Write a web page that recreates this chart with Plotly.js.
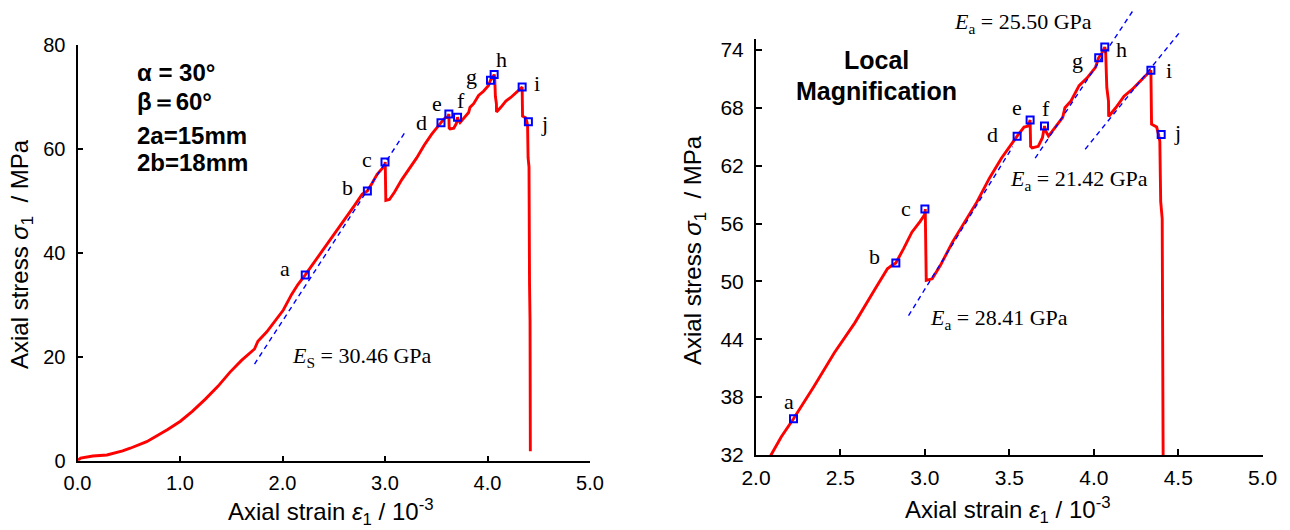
<!DOCTYPE html>
<html>
<head>
<meta charset="utf-8">
<script src="https://cdn.plot.ly/plotly-3.0.1.min.js"></script>
<style>
  html, body { margin: 0; padding: 0; background: #fff; }
  #chart { width: 1290px; height: 530px; }
</style>
</head>
<body>
<div id="chart"></div>
<script>
// ---------- DATA ----------
// axial strain (10^-3) and axial stress (MPa) of the full curve
const strain = [0, 0.03, 0.15, 0.287, 0.44, 0.514, 0.675, 0.763, 0.88, 1.004, 1.12, 1.245, 1.37, 1.486, 1.6, 1.727, 1.76, 1.847, 1.93, 2.008,
  2.089, 2.15, 2.222, 2.343, 2.464, 2.585, 2.705, 2.778, 2.80, 2.828, 2.874, 2.923, 2.971, 2.998, 3.002, 3.008, 3.043, 3.092, 3.164, 3.237,
  3.309, 3.382, 3.454, 3.546, 3.587, 3.611, 3.623, 3.626, 3.635, 3.671, 3.696, 3.708, 3.715, 3.732, 3.768, 3.816, 3.829, 3.865, 3.913, 3.961,
  4.01, 4.029, 4.046, 4.065, 4.07, 4.077, 4.087, 4.088, 4.13, 4.179, 4.227, 4.275, 4.324, 4.338, 4.342, 4.372, 4.384, 4.391, 4.396, 4.405,
  4.41, 4.415, 4.418];
const stress = [0, 0.5, 0.9, 1.1, 1.9, 2.4, 3.66, 4.67, 6.0, 7.6, 9.5, 11.8, 14.3, 17.0, 19.3, 21.5, 23.0, 24.8, 27.0, 29.0,
  32.0, 33.9, 35.76, 39.1, 42.6, 45.7, 49.2, 51.3, 51.6, 51.9, 53.4, 55.1, 56.2, 56.9, 57.5, 50.1, 50.27, 51.66, 54.1, 56.18,
  58.27, 60.7, 62.8, 65.06, 66.0, 66.1, 66.73, 64.0, 63.84, 64.0, 64.9, 66.1, 65.6, 65.06, 65.9, 67.0, 68.0, 68.7, 70.3, 71.1,
  72.2, 73.2, 73.6, 74.3, 73.9, 70.1, 68.7, 67.1, 68.0, 69.2, 69.9, 70.8, 71.7, 71.9, 66.3, 66.0, 65.2, 64.5, 58.3, 56.5,
  34.0, 27.0, 1.8];

// characteristic points a–j
const pointLabels = ['a', 'b', 'c', 'd', 'e', 'f', 'g', 'h', 'i', 'j'];
const pointStrain = [2.222, 2.828, 3.0, 3.546, 3.623, 3.708, 4.029, 4.065, 4.338, 4.399];
const pointStress = [35.76, 51.9, 57.5, 65.06, 66.73, 66.1, 73.2, 74.3, 71.9, 65.23];

// fitted modulus lines (dashed)
const esStrain = [1.727, 3.205];
const esStress = [18.6, 63.5];
const ea1Strain = [2.903, 3.52];      // 28.41 GPa
const ea1Stress = [46.44, 63.97];
const ea2Strain = [3.653, 4.235];     // 25.50 GPa
const ea2Stress = [62.77, 78.15];
const ea3Strain = [3.949, 4.512];     // 21.42 GPa
const ea3Stress = [63.7, 75.9];

// tick settings
const leftXTicks = [0, 1, 2, 3, 4, 5];
const leftYTicks = [0, 20, 40, 60, 80];
const rightXTicks = [2.0, 2.5, 3.0, 3.5, 4.0, 4.5, 5.0];
const rightYTicks = [32, 38, 44, 50, 56, 62, 68, 74];

// ---------- LAYOUT HELPERS (pixel positions, not data) ----------
const W = 1290, H = 530;
const px = v => v / W;
const py = v => 1 - v / H;

// label offsets in px (dx right, dy down) for a–j
const leftDx = [-20.6, -19.8, -18.5, -19.3, -11.5, 3.7, -19.3, 7.4, 15.2, 16];
const leftDy = [-6, -3.4, -2.7, 0, -10.8, -17, -3.4, -15.5, -3.4, 1.7];
const rightDx = [-4.1, -21.6, -19.2, -24.9, -13.1, 1.2, -21.6, 17.1, 18, 16.7];
const rightDy = [-17.4, -7.0, -0.7, -1.7, -12.4, -17.8, 2.7, 2.7, 0.7, -1.7];

const sans = 'Liberation Sans, Arial, sans-serif';
const serif = 'Liberation Serif, Times New Roman, serif';
const RED = '#ff0000', BLUE = '#0000ff';

const lx = [px(77.5), px(590)], ly = [py(460.7), py(45)];
const rx = [px(756), px(1262.7)], ry = [py(455), py(39.3)];
const rRange = [32, 75.1];
const r3Top = rRange[0] + (rRange[1] - rRange[0]) * (1 - ry[0]) / (ry[1] - ry[0]);

const curveLine = {color: RED, width: 2.9};
const dashLine = {color: BLUE, width: 1.4, dash: '5px,4px'};
const sqMarker = {symbol: 'square-open', size: 7, color: BLUE, line: {color: BLUE, width: 2}};

const traces = [
  {x: strain, y: stress, xaxis: 'x', yaxis: 'y', mode: 'lines', line: curveLine, hoverinfo: 'skip'},
  {x: esStrain, y: esStress, xaxis: 'x', yaxis: 'y', mode: 'lines', line: dashLine},
  {x: pointStrain, y: pointStress, xaxis: 'x', yaxis: 'y', mode: 'markers', marker: sqMarker},
  {x: strain, y: stress, xaxis: 'x2', yaxis: 'y2', mode: 'lines', line: curveLine},
  {x: ea1Strain, y: ea1Stress, xaxis: 'x3', yaxis: 'y3', mode: 'lines', line: dashLine},
  {x: ea2Strain, y: ea2Stress, xaxis: 'x3', yaxis: 'y3', mode: 'lines', line: dashLine},
  {x: ea3Strain, y: ea3Stress, xaxis: 'x3', yaxis: 'y3', mode: 'lines', line: dashLine},
  {x: pointStrain, y: pointStress, xaxis: 'x3', yaxis: 'y3', mode: 'markers', marker: sqMarker}
];

const axBase = {
  showline: true, linecolor: '#000', linewidth: 2, showgrid: false, zeroline: false,
  ticks: 'inside', tickcolor: '#000', tickwidth: 2, fixedrange: true
};

const annotations = [];
pointLabels.forEach((t, i) => {
  annotations.push({xref: 'x', yref: 'y', x: pointStrain[i], y: pointStress[i], text: t, showarrow: false,
    xshift: leftDx[i], yshift: -leftDy[i], font: {family: serif, size: 22, color: '#000'}});
  annotations.push({xref: 'x3', yref: 'y3', x: pointStrain[i], y: pointStress[i], text: t, showarrow: false,
    xshift: rightDx[i], yshift: -rightDy[i], font: {family: serif, size: 22, color: '#000'}});
});

const boldFont = {family: sans, size: 24, color: '#000'};
[['<b>α = 30°</b>', 73], ['<b>β＝60°</b>', 102], ['<b>2a=15mm</b>', 135.5], ['<b>2b=18mm</b>', 162.5]].forEach(([t, y]) => {
  annotations.push({xref: 'paper', yref: 'paper', x: px(135), y: py(y), xanchor: 'left', yanchor: 'middle',
    text: t, showarrow: false, font: boldFont});
});
annotations.push({xref: 'paper', yref: 'paper', x: px(876), y: py(60), xanchor: 'center', yanchor: 'middle',
  text: '<b>Local</b>', showarrow: false, font: {family: sans, size: 25, color: '#000'}});
annotations.push({xref: 'paper', yref: 'paper', x: px(876), y: py(91), xanchor: 'center', yanchor: 'middle',
  text: '<b>Magnification</b>', showarrow: false, font: {family: sans, size: 25, color: '#000'}});

const eFont = {family: serif, size: 22, color: '#000'};
[['<i>E</i><sub>S</sub> = 30.46 GPa', 290, 357],
 ['<i>E</i><sub>a</sub> = 28.41 GPa', 928, 319],
 ['<i>E</i><sub>a</sub> = 25.50 GPa', 952, 23],
 ['<i>E</i><sub>a</sub> = 21.42 GPa', 1008, 180]].forEach(([t, x, y]) => {
  annotations.push({xref: 'paper', yref: 'paper', x: px(x), y: py(y), xanchor: 'left', yanchor: 'middle',
    text: t, showarrow: false, font: eFont});
});

const titleFont = {family: sans, size: 24, color: '#000'};
const yTitle = 'Axial stress <i>σ</i><sub>1</sub>  / MPa';
const xTitle = 'Axial strain <i>ε</i><sub>1</sub> / 10<sup>-3</sup>';
annotations.push({xref: 'paper', yref: 'paper', x: px(21), y: py(254), textangle: -90, xanchor: 'center', yanchor: 'middle',
  text: yTitle, showarrow: false, font: titleFont});
annotations.push({xref: 'paper', yref: 'paper', x: px(694), y: py(250), textangle: -90, xanchor: 'center', yanchor: 'middle',
  text: yTitle, showarrow: false, font: titleFont});
annotations.push({xref: 'paper', yref: 'paper', x: px(331), y: py(512), xanchor: 'center', yanchor: 'middle',
  text: xTitle, showarrow: false, font: titleFont});
annotations.push({xref: 'paper', yref: 'paper', x: px(1008), y: py(510), xanchor: 'center', yanchor: 'middle',
  text: xTitle, showarrow: false, font: titleFont});

const layout = {
  width: W, height: H, autosize: false, showlegend: false,
  margin: {l: 0, r: 0, t: 0, b: 0, pad: 0},
  paper_bgcolor: '#fff', plot_bgcolor: 'rgba(0,0,0,0)',
  font: {family: sans, color: '#000'},
  xaxis: Object.assign({}, axBase, {domain: lx, anchor: 'y', range: [0, 5], tickvals: leftXTicks, tickformat: '.1f',
    ticklen: 5, tickfont: {family: sans, size: 20}, ticklabelstandoff: 3}),
  yaxis: Object.assign({}, axBase, {domain: ly, anchor: 'x', range: [0, 80], tickvals: leftYTicks,
    ticklen: 5, tickfont: {family: sans, size: 20}, ticklabelstandoff: 6}),
  xaxis2: Object.assign({}, axBase, {domain: rx, anchor: 'y2', range: [2, 5], tickvals: rightXTicks, tickformat: '.1f',
    ticklen: 6, tickfont: {family: sans, size: 21}, ticklabelstandoff: 3}),
  yaxis2: Object.assign({}, axBase, {domain: ry, anchor: 'x2', range: rRange, tickvals: rightYTicks,
    ticklen: 6, tickfont: {family: sans, size: 21}, ticklabelstandoff: 6}),
  xaxis3: {domain: rx, anchor: 'y3', range: [2, 5], visible: false, fixedrange: true},
  yaxis3: {domain: [ry[0], 1], anchor: 'x3', range: [rRange[0], r3Top], visible: false, fixedrange: true},
  annotations: annotations
};

Plotly.newPlot('chart', traces, layout, {staticPlot: true, displayModeBar: false});
</script>
</body>
</html>
